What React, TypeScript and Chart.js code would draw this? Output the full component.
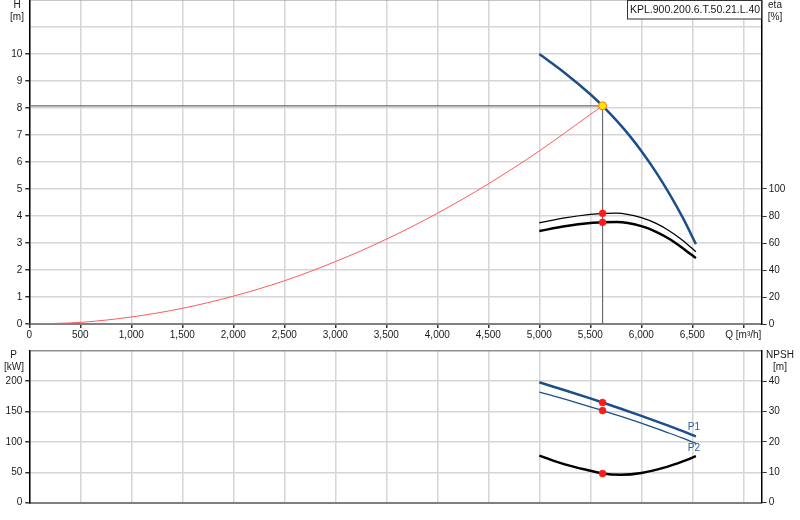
import { useEffect, useRef } from 'react';
import Chart from 'chart.js/auto';

// flow axis ticks (m³/h)
const qTicks = [0, 500, 1000, 1500, 2000, 2500, 3000, 3500, 4000, 4500, 5000, 5500, 6000, 6500, 7000];

// pump head curve (Q in m³/h, H in m)
const qPump = [5000, 5250, 5500, 5620, 5760, 5890, 6000, 6150, 6280, 6410, 6535];
const head = [10.0, 9.3, 8.51, 8.08, 7.52, 6.95, 6.41, 5.59, 4.79, 3.91, 2.96];

// efficiency curves (%)
const qEta = [5000, 5250, 5500, 5620, 5760, 6000, 6150, 6280, 6410, 6535];
const etaPump = [75.0, 78.6, 81.2, 82.0, 82.2, 78.8, 74.3, 68.7, 61.7, 53.6];
const etaTotal = [68.9, 72.4, 74.8, 75.3, 75.5, 72.5, 68.1, 62.8, 56.0, 48.8];

// system curve
const qSystem = [0, 500, 1000, 1500, 2000, 2500, 3000, 3500, 4000, 4500, 5000, 5500, 5620];
const hSystem = [0, 0.06, 0.26, 0.58, 1.03, 1.6, 2.31, 3.14, 4.1, 5.19, 6.41, 7.76, 8.08];

// power / NPSH
const qLoad = [5000, 5250, 5500, 5620, 5800, 6000, 6250, 6400, 6535];
const powerP1 = [198, 185, 171.5, 164.8, 154.5, 142.7, 127.5, 118.2, 109];
const powerP2 = [182, 170.3, 157.8, 151.5, 142, 130.8, 115.8, 106.5, 97.5];
const npsh = [15.5, 12.6, 10.5, 9.6, 9.2, 9.8, 11.8, 13.5, 15.3];

// duty point
const dutyQ = 5620;
const dutyH = 8.08;
const dutyEta = [82.0, 75.3];
const dutyP = [164.8, 151.5];
const dutyNpsh = 9.6;

const pumpName = 'KPL.900.200.6.T.50.21.L.40';

const FONT = { family: '"Liberation Sans", Arial, sans-serif', size: 10 };
const TEXT = '#1a1a1a';
const GRID = '#d6d6d6';
const BLUE = '#1c4e8a';

const pts = (xs: number[], ys: number[]) => xs.map((x, i) => ({ x, y: ys[i] }));

function drawText(ctx: CanvasRenderingContext2D, text: string, x: number, y: number, align: CanvasTextAlign = 'center', color = TEXT, size = 10) {
  ctx.save();
  ctx.font = `${size}px "Liberation Sans", Arial, sans-serif`;
  ctx.fillStyle = color;
  ctx.textAlign = align;
  ctx.textBaseline = 'middle';
  ctx.fillText(text, x, y);
  ctx.restore();
}

const fmt = (v: number) => v.toLocaleString('en-US');

// fixed axis sizes so the plot area lands where the picture has it
const fixWidth = (w: number) => (s: any) => {
  s.width = w;
  s.paddingTop = 0;
  s.paddingBottom = 0;
};
const fixHeight = (h: number) => (s: any) => {
  s.height = h;
  s.paddingLeft = 0;
  s.paddingRight = 0;
};
const useQTicks = (s: any) => {
  s.ticks = qTicks.map((value) => ({ value }));
};

function HeadChart() {
  const chartRef = useRef<HTMLCanvasElement | null>(null);
  const chartInstance = useRef<Chart | null>(null);

  useEffect(() => {
    if (!chartRef.current) return;
    if (chartInstance.current) chartInstance.current.destroy();
    const ctx = chartRef.current.getContext('2d');
    if (!ctx) return;

    const labelsPlugin = {
      id: 'headLabels',
      afterDraw(chart: Chart) {
        const c = chart.ctx;
        drawText(c, 'H', 17, 5);
        drawText(c, '[m]', 17, 17);
        drawText(c, 'eta', 775, 5);
        drawText(c, '[%]', 775, 17);
        // name box
        c.save();
        c.fillStyle = '#fff';
        c.fillRect(627, 0, 135, 19);
        c.strokeStyle = '#333';
        c.lineWidth = 1;
        c.strokeRect(627.5, 0.5, 134, 18.5);
        c.restore();
        drawText(c, pumpName, 630, 10, 'left', TEXT, 10.5);
      },
    };

    chartInstance.current = new Chart(ctx, {
      type: 'line',
      data: {
        datasets: [
          {
            data: [{ x: dutyQ, y: dutyH }],
            yAxisID: 'y',
            showLine: false,
            pointRadius: 4,
            pointBackgroundColor: '#ffe400',
            pointBorderColor: '#ff7a00',
            pointBorderWidth: 1,
          },
          {
            data: dutyEta.map((y) => ({ x: dutyQ, y })),
            yAxisID: 'eta',
            showLine: false,
            pointRadius: 3.5,
            pointBackgroundColor: '#ff1a1a',
            pointBorderColor: '#ff1a1a',
            pointBorderWidth: 0.5,
          },
          {
            data: pts(qPump, head),
            yAxisID: 'y',
            borderColor: BLUE,
            borderWidth: 2.5,
            pointRadius: 0,
            cubicInterpolationMode: 'monotone',
          },
          {
            data: pts(qEta, etaPump),
            yAxisID: 'eta',
            borderColor: '#000',
            borderWidth: 1.3,
            pointRadius: 0,
            cubicInterpolationMode: 'monotone',
          },
          {
            data: pts(qEta, etaTotal),
            yAxisID: 'eta',
            borderColor: '#000',
            borderWidth: 2.5,
            pointRadius: 0,
            cubicInterpolationMode: 'monotone',
          },
          {
            data: pts(qSystem, hSystem),
            yAxisID: 'y',
            borderColor: '#ff5a5a',
            borderWidth: 1,
            pointRadius: 0,
            cubicInterpolationMode: 'monotone',
          },
          {
            data: [{ x: 0, y: dutyH }, { x: dutyQ, y: dutyH }, { x: dutyQ, y: 0 }],
            yAxisID: 'y',
            borderColor: '#6a6a6a',
            borderWidth: 1.2,
            pointRadius: 0,
            tension: 0,
          },
        ],
      },
      options: {
        responsive: false,
        animation: false,
        events: [],
        layout: { autoPadding: false, padding: 0 },
        plugins: { legend: { display: false }, tooltip: { enabled: false } },
        scales: {
          x: {
            type: 'linear',
            min: 0,
            max: 7180,
            afterFit: fixHeight(21),
            afterBuildTicks: useQTicks,
            border: { color: '#808080', width: 2 },
            grid: { color: GRID, lineWidth: 1.5, tickLength: 4, tickColor: '#333' },
            ticks: {
              autoSkip: false,
              maxRotation: 0,
              padding: 1,
              font: FONT,
              color: TEXT,
              callback: (v: any) => (v === 7000 ? 'Q [m³/h]' : fmt(Number(v))),
            },
          },
          y: {
            position: 'left',
            min: 0,
            max: 12,
            afterFit: fixWidth(29.3),
            border: { color: '#000', width: 1.5 },
            grid: {
              color: (c: any) => (c.tick && c.tick.value === 12 ? '#909090' : GRID),
              lineWidth: 1.5,
              tickLength: 4,
              tickColor: (c: any) => (c.tick && c.tick.value <= 10 ? '#333' : 'rgba(0,0,0,0)'),
            },
            ticks: {
              stepSize: 1,
              padding: 3,
              font: FONT,
              color: TEXT,
              callback: (v: any) => (v <= 10 ? String(v) : ''),
            },
          },
          eta: {
            position: 'right',
            min: 0,
            max: 240,
            afterFit: fixWidth(38.3),
            border: { color: '#000', width: 1.5 },
            grid: {
              drawOnChartArea: false,
              tickLength: 5,
              tickColor: (c: any) => (c.tick && c.tick.value <= 100 ? '#333' : 'rgba(0,0,0,0)'),
            },
            ticks: {
              stepSize: 20,
              padding: 2,
              font: FONT,
              color: TEXT,
              callback: (v: any) => (v <= 100 ? String(v) : ''),
            },
          },
        },
      } as any,
      plugins: [labelsPlugin as any],
    });

    return () => {
      if (chartInstance.current) {
        chartInstance.current.destroy();
        chartInstance.current = null;
      }
    };
  }, []);

  return (
    <canvas
      ref={chartRef}
      width={800}
      height={345}
      style={{ position: 'absolute', left: 0, top: 0, width: 800, height: 345 }}
    />
  );
}

function PowerChart() {
  const chartRef = useRef<HTMLCanvasElement | null>(null);
  const chartInstance = useRef<Chart | null>(null);

  useEffect(() => {
    if (!chartRef.current) return;
    if (chartInstance.current) chartInstance.current.destroy();
    const ctx = chartRef.current.getContext('2d');
    if (!ctx) return;

    const labelsPlugin = {
      id: 'powerLabels',
      afterDraw(chart: Chart) {
        const c = chart.ctx;
        drawText(c, 'P', 13.5, 25);
        drawText(c, '[kW]', 14, 37);
        drawText(c, 'NPSH', 780, 25);
        drawText(c, '[m]', 780, 37);
        const p1 = chart.getDatasetMeta(1).data;
        const p2 = chart.getDatasetMeta(2).data;
        const e1 = p1[p1.length - 1];
        const e2 = p2[p2.length - 1];
        drawText(c, 'P1', e1.x - 2, e1.y - 9, 'center', '#2a5b9c');
        drawText(c, 'P2', e2.x - 2, e2.y + 5, 'center', '#2a5b9c');
      },
    };

    chartInstance.current = new Chart(ctx, {
      type: 'line',
      data: {
        datasets: [
          {
            data: dutyP.map((y) => ({ x: dutyQ, y })),
            yAxisID: 'y',
            showLine: false,
            pointRadius: 3.5,
            pointBackgroundColor: '#ff1a1a',
            pointBorderColor: '#ff1a1a',
            pointBorderWidth: 0.5,
          },
          {
            data: pts(qLoad, powerP1),
            yAxisID: 'y',
            borderColor: BLUE,
            borderWidth: 2.5,
            pointRadius: 0,
            cubicInterpolationMode: 'monotone',
          },
          {
            data: pts(qLoad, powerP2),
            yAxisID: 'y',
            borderColor: BLUE,
            borderWidth: 1.3,
            pointRadius: 0,
            cubicInterpolationMode: 'monotone',
          },
          {
            data: [{ x: dutyQ, y: dutyNpsh }],
            yAxisID: 'npsh',
            showLine: false,
            pointRadius: 3.5,
            pointBackgroundColor: '#ff1a1a',
            pointBorderColor: '#ff1a1a',
            pointBorderWidth: 0.5,
          },
          {
            data: pts(qLoad, npsh),
            yAxisID: 'npsh',
            borderColor: '#000',
            borderWidth: 2.5,
            pointRadius: 0,
            cubicInterpolationMode: 'monotone',
          },
        ],
      },
      options: {
        responsive: false,
        animation: false,
        events: [],
        layout: { autoPadding: false, padding: { top: 20.7, left: 0, right: 0, bottom: 0 } },
        plugins: { legend: { display: false }, tooltip: { enabled: false } },
        scales: {
          x: {
            type: 'linear',
            min: 0,
            max: 7180,
            afterFit: fixHeight(17.3),
            afterBuildTicks: useQTicks,
            border: { color: '#808080', width: 2 },
            grid: { color: GRID, lineWidth: 1.5, drawTicks: false },
            ticks: { display: false },
          },
          y: {
            position: 'left',
            min: 0,
            max: 250,
            afterFit: fixWidth(29.3),
            border: { color: '#000', width: 1.5 },
            grid: {
              color: (c: any) => (c.tick && c.tick.value === 250 ? '#909090' : GRID),
              lineWidth: 1.5,
              tickLength: 4,
              tickColor: (c: any) => (c.tick && c.tick.value <= 200 ? '#333' : 'rgba(0,0,0,0)'),
            },
            ticks: {
              stepSize: 50,
              padding: 3,
              font: FONT,
              color: TEXT,
              callback: (v: any) => (v <= 200 ? String(v) : ''),
            },
          },
          npsh: {
            position: 'right',
            min: 0,
            max: 50,
            afterFit: fixWidth(38.3),
            border: { color: '#000', width: 1.5 },
            grid: {
              drawOnChartArea: false,
              tickLength: 5,
              tickColor: (c: any) => (c.tick && c.tick.value <= 40 ? '#333' : 'rgba(0,0,0,0)'),
            },
            ticks: {
              stepSize: 10,
              padding: 2,
              font: FONT,
              color: TEXT,
              callback: (v: any) => (v <= 40 ? String(v) : ''),
            },
          },
        },
      } as any,
      plugins: [labelsPlugin as any],
    });

    return () => {
      if (chartInstance.current) {
        chartInstance.current.destroy();
        chartInstance.current = null;
      }
    };
  }, []);

  return (
    <canvas
      ref={chartRef}
      width={800}
      height={190}
      style={{ position: 'absolute', left: 0, top: 330, width: 800, height: 190 }}
    />
  );
}

export default function App() {
  return (
    <div style={{ position: 'absolute', left: 0, top: 0, width: 800, height: 520, background: '#fff' }}>
      <HeadChart />
      <PowerChart />
    </div>
  );
}
